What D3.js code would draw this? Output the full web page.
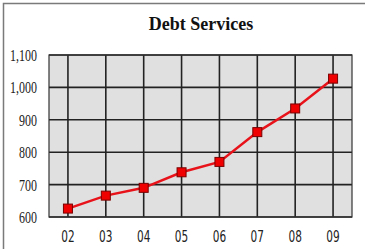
<!DOCTYPE html>
<html><head><meta charset="utf-8">
<script src="https://cdn.jsdelivr.net/npm/d3@7"></script>
<style>html,body{margin:0;padding:0;background:#fff;}svg{display:block;}</style>
</head><body>
<script>
const years = ["02","03","04","05","06","07","08","09"];
const debtValues = [626, 666, 690, 738, 770, 862, 935, 1027];
const yTicks = [600, 700, 800, 900, 1000, 1100];
const title = "Debt Services";

const W = 365, H = 249;
const svg = d3.select("body").append("svg").attr("width", W).attr("height", H);

// outer frame
svg.append("rect").attr("x", 3.5).attr("y", 3.5).attr("width", W + 10).attr("height", H + 10)
  .attr("fill", "#fff").attr("stroke", "#7a7a7a").attr("stroke-width", 1.5);

const m = {left: 49, right: 13, top: 55, bottom: 32};
const x = d3.scaleBand().domain(years).range([m.left, W - m.right]).padding(0);
const y = d3.scaleLinear().domain([600, 1100]).range([H - m.bottom, m.top]);

svg.append("text").attr("x", 201).attr("y", 30).attr("text-anchor", "middle")
  .attr("font-family", "Liberation Serif, serif").attr("font-weight", "bold").attr("font-size", 18)
  .attr("fill", "#111").text(title);

// plot background
svg.append("rect").attr("x", m.left).attr("y", m.top).attr("width", W - m.right - m.left)
  .attr("height", y(600) - m.top).attr("fill", "#e0e0e0");

// horizontal grid
svg.append("g").selectAll("line").data(yTicks).join("line")
  .attr("x1", m.left).attr("x2", W - m.right)
  .attr("y1", d => y(d)).attr("y2", d => y(d))
  .attr("stroke", "#222").attr("stroke-width", 1.6);
// vertical grid
svg.append("g").selectAll("line").data(years).join("line")
  .attr("x1", d => x(d) + x.bandwidth()/2).attr("x2", d => x(d) + x.bandwidth()/2)
  .attr("y1", m.top).attr("y2", y(600))
  .attr("stroke", "#222").attr("stroke-width", 1.6);
// plot border
svg.append("rect").attr("x", m.left).attr("y", m.top).attr("width", W - m.right - m.left)
  .attr("height", y(600) - m.top).attr("fill", "none").attr("stroke", "#333").attr("stroke-width", 1.2);

// y axis labels
const yAxis = d3.axisLeft(y).tickValues(yTicks).tickSize(0).tickFormat(d3.format(","));
const ya = svg.append("g").attr("transform", `translate(${m.left},0)`).call(yAxis);
ya.select(".domain").remove();
ya.selectAll("text").attr("x", 0).attr("dy", 0)
  .attr("transform", "translate(-12,5.5) scale(0.8,1.15)")
  .attr("font-family", "Liberation Serif, serif").attr("font-size", 15).attr("fill", "#222");

// x axis labels
const xAxis = d3.axisBottom(x).tickSize(0);
const xa = svg.append("g").attr("transform", `translate(0,${y(600)})`).call(xAxis);
xa.select(".domain").remove();
xa.selectAll("text").attr("y", 0).attr("dy", 0)
  .attr("transform", "translate(0,25) scale(0.9,1.25)")
  .attr("font-family", "DejaVu Sans Condensed, sans-serif").attr("font-size", 13).attr("fill", "#222");

// line
const line = d3.line().x((d, i) => x(years[i]) + x.bandwidth()/2).y(d => y(d));
svg.append("path").datum(debtValues).attr("d", line).attr("fill", "none")
  .attr("stroke", "#e8131a").attr("stroke-width", 2.5);

// markers
const s = 9;
svg.append("g").selectAll("rect").data(debtValues).join("rect")
  .attr("x", (d, i) => x(years[i]) + x.bandwidth()/2 - s/2)
  .attr("y", d => y(d) - s/2).attr("width", s).attr("height", s)
  .attr("fill", "#f00000").attr("stroke", "#7a0000").attr("stroke-width", 1);
</script>
</body></html>
